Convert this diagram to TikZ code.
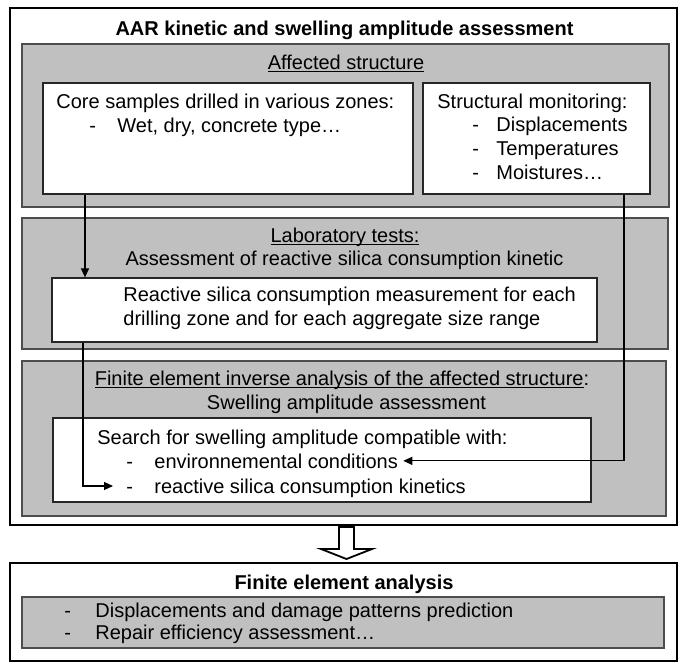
\documentclass[tikz,border=0pt]{standalone}
\usepackage{fontspec}
\setmainfont{Liberation Sans}
\usepackage{tikz}
\usetikzlibrary{fit,arrows.meta}
\definecolor{panel}{HTML}{C0C0C0}
\definecolor{edge}{HTML}{4D4D4D}
\newcommand{\itm}[2]{\makebox[#1][l]{-}#2}
\newcommand{\undl}[1]{\setbox0\hbox{#1}\rlap{\rule[-1.5pt]{\wd0}{0.55pt}}\box0}
\tikzset{
  outer/.style={draw=black, line width=1.1pt, inner sep=0pt},
  gpanel/.style={draw=edge, fill=panel, line width=0.8pt, inner sep=0pt},
  wbox/.style={draw=black!85, fill=white, line width=0.6pt, inner sep=0pt},
  txt/.style={inner sep=0pt, anchor=base west, font=\fontsize{10}{12}\selectfont},
  ctxt/.style={txt, anchor=base},
  link/.style={draw=black, line width=0.6pt},
  arr/.style={link, -{Triangle[length=4.5pt,width=4pt]}}
}

\begin{document}
\begin{tikzpicture}[x=0.5pt,y=-0.5pt]
  \useasboundingbox (0,0) rectangle (679,664);
  % assessment block
  \node[outer, fit={(10,8) (677,525)}] (aar) {};
  \node[ctxt, font=\fontsize{10}{12}\selectfont\bfseries] (title) at (344.5,35) {AAR kinetic and swelling amplitude assessment};
  \node[gpanel, fit={(22,44) (669,207)}] (affected) {};
  \node[gpanel, fit={(22,218) (668,349)}] (lab) {};
  \node[gpanel, fit={(22,361) (666,516)}] (inverse) {};
  \node[wbox, fit={(43,83) (413,194)}] (core) {};
  \node[wbox, fit={(423,83) (650,194)}] (mon) {};
  \node[wbox, fit={(52,278) (597,342)}] (meas) {};
  \node[wbox, fit={(53,418) (591,502)}] (search) {};

  \node[ctxt] (afftitle) at (346,69) {\undl{Affected structure}};
  \node[txt] (core1) at (56,108) {Core samples drilled in various zones:};
  \node[txt] (core2) at (89,132) {\itm{14pt}{Wet, dry, concrete type…}};
  \node[txt] (mon0) at (437,108) {Structural monitoring:};
  \foreach \t [count=\i] in {Displacements,Temperatures,Moistures…}
    \node[txt] (mon\i) at (472,108+23.7*\i) {\itm{12pt}{\t}};

  \node[ctxt] (labtitle) at (345,242) {\undl{Laboratory tests:}};
  \node[ctxt] (labsub) at (344.5,265) {Assessment of reactive silica consumption kinetic};
  \node[txt] (meas1) at (123,301) {Reactive silica consumption measurement for each};
  \node[txt] (meas2) at (123,325) {drilling zone and for each aggregate size range};

  \node[ctxt] (invtitle) at (342,385) {\undl{Finite element inverse analysis of the affected structure}:};
  \node[ctxt] (invsub) at (346.5,409) {Swelling amplitude assessment};
  \node[txt] (search1) at (97,444) {Search for swelling amplitude compatible with:};
  \node[txt] (env) at (126,468) {\itm{14pt}{environnemental conditions}};
  \node[txt] (kin) at (126,493) {\itm{14pt}{reactive silica consumption kinetics}};

  % connectors
  \coordinate (xa) at (85,0);
  \coordinate (xb) at (83,0);
  \coordinate (xc) at (624,0);
  \coordinate (kinin) at (113,486);
  \draw[arr] (xa |- core.south) -- (xa |- meas.north);
  \draw[arr] (xb |- meas.south) |- (kinin);
  \draw[arr] (xc |- mon.south) |- ([xshift=2.5pt]env.east);

  % hollow arrow
  \draw[line width=0.9pt, fill=white] (339,527) -- (354,527) -- (354,549) -- (372,549)
    -- (346.5,559) -- (321,549) -- (339,549) -- cycle;

  % finite element analysis block
  \node[outer, fit={(10,563) (677,661)}] (fea) {};
  \node[ctxt, font=\fontsize{10}{12}\selectfont\bfseries] (featitle) at (344,589) {Finite element analysis};
  \node[gpanel, fit={(22,597) (664,648)}] (pred) {};
  \node[txt] (pred1) at (64,617) {\itm{15.5pt}{Displacements and damage patterns prediction}};
  \node[txt] (pred2) at (64,639) {\itm{15.5pt}{Repair efficiency assessment…}};
\end{tikzpicture}
\end{document}
